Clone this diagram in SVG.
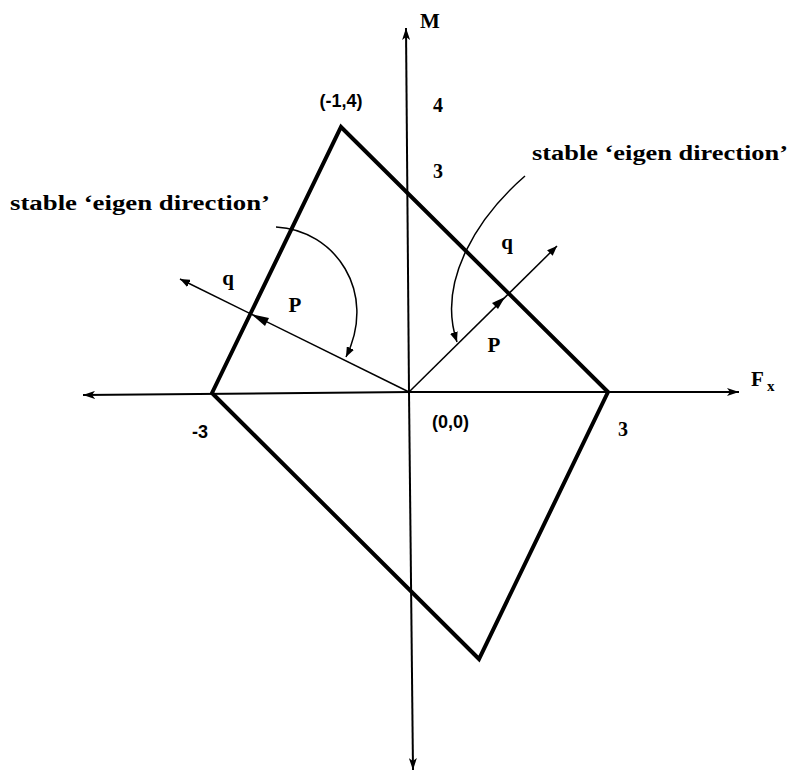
<svg xmlns="http://www.w3.org/2000/svg" width="792" height="774" viewBox="0 0 792 774">
<style>
.ax{stroke:#000;stroke-width:2;fill:none}
.poly{stroke:#000;stroke-width:4;fill:none;stroke-linejoin:miter}
.thin{stroke:#000;stroke-width:1.5;fill:none}
.t{font-family:"Liberation Serif",serif;font-weight:bold;fill:#000}
.s{font-family:"Liberation Sans",sans-serif;fill:#000}
</style>
<defs>
<marker id="ah" viewBox="0 0 12 8" refX="12" refY="4" markerWidth="12" markerHeight="8" markerUnits="userSpaceOnUse" orient="auto">
<path d="M0,0 L12,4 L0,8 L3,4 Z" fill="#000"/>
</marker>
<marker id="ahs" viewBox="0 0 10 8" refX="10" refY="4" markerWidth="10" markerHeight="8" markerUnits="userSpaceOnUse" orient="auto">
<path d="M0,0 L10,4 L0,8 Z" fill="#000"/>
</marker>
</defs>
<rect width="792" height="774" fill="#fff"/>
<g id="axes">
<line class="ax" x1="411" y1="392" x2="83" y2="395" marker-end="url(#ah)"/>
<line class="ax" x1="409" y1="392" x2="739" y2="392" marker-end="url(#ah)"/>
<line class="ax" x1="409" y1="392" x2="406" y2="28" marker-end="url(#ah)"/>
<line class="ax" x1="409" y1="392" x2="413" y2="770" marker-end="url(#ah)"/>
</g>
<g id="polygon">
<polygon class="poly" points="341,127 608,392 479,659 212,393"/>
</g>
<g id="connectors">
<line class="thin" x1="409" y1="392" x2="180" y2="279" marker-end="url(#ahs)"/>
<path d="M251,314 L269,318 L265,326 Z" fill="#000"/>
<line class="thin" x1="409" y1="392" x2="557" y2="246" marker-end="url(#ahs)"/>
<path d="M505,297 L492,303 L498,309 Z" fill="#000"/>
<path class="thin" d="M276,227 C335,230 378,292 346,357" marker-end="url(#ahs)"/>
<path class="thin" d="M525,176 C480,215 436,280 457,342" marker-end="url(#ahs)"/>
</g>
<g id="labels">
<text class="t" x="430" y="28" font-size="21" text-anchor="middle">M</text>
<text class="s" x="341" y="107" font-size="18" font-weight="bold" text-anchor="middle">(-1,4)</text>
<text class="t" x="438" y="112" font-size="20" text-anchor="middle">4</text>
<text class="t" x="438" y="178" font-size="20" text-anchor="middle">3</text>
<text class="t" x="532" y="160" font-size="20" textLength="256" lengthAdjust="spacingAndGlyphs">stable ‘eigen direction’</text>
<text class="t" x="10" y="210" font-size="20" textLength="260" lengthAdjust="spacingAndGlyphs">stable ‘eigen direction’</text>
<text class="t" x="228" y="285" font-size="21" text-anchor="middle">q</text>
<text class="t" x="295" y="312" font-size="21" text-anchor="middle">P</text>
<text class="t" x="507" y="249" font-size="21" text-anchor="middle">q</text>
<text class="t" x="494" y="352" font-size="21" text-anchor="middle">P</text>
<text class="t" x="751" y="386" font-size="21">F</text>
<text class="t" x="767" y="391" font-size="15">x</text>
<text class="s" x="432" y="428" font-size="18" font-weight="bold">(0,0)</text>
<text class="s" x="200" y="438" font-size="18" font-weight="bold" text-anchor="middle">-3</text>
<text class="t" x="623" y="436" font-size="20" text-anchor="middle">3</text>
</g>
</svg>
